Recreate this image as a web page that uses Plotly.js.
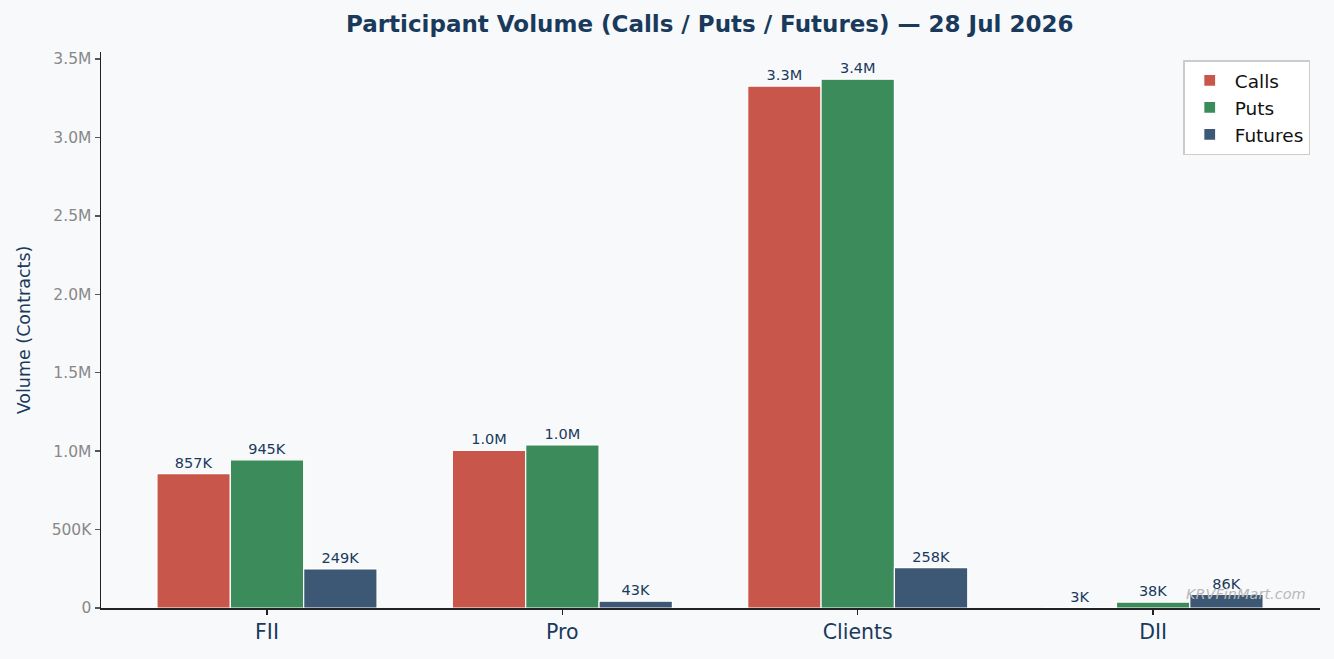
<!DOCTYPE html>
<html>
<head>
<meta charset="utf-8">
<script src="https://cdn.plot.ly/plotly-3.0.1.min.js"></script>
<style>
  html, body { margin: 0; padding: 0; background: #f8f9fb; }
  #chart { width: 1334px; height: 659px; }
</style>
</head>
<body>
<div id="chart"></div>
<script>
// participant categories and volumes (contracts)
const participants = ['FII', 'Pro', 'Clients', 'DII'];
const calls   = [857000, 1005000, 3328000, 3000];
const puts    = [945000, 1040000, 3372000, 38000];
const futures = [249000, 43000, 258000, 86000];

const yTickVals = [0, 500000, 1000000, 1500000, 2000000, 2500000, 3000000, 3500000];
const yTickText = ['0', '500K', '1.0M', '1.5M', '2.0M', '2.5M', '3.0M', '3.5M'];

function fmt(v) {
  if (v >= 1e6) return (v / 1e6).toFixed(1) + 'M';
  return Math.round(v / 1e3) + 'K';
}

function series(name, vals, color) {
  return {
    type: 'bar',
    name: name,
    x: participants,
    y: vals,
    text: vals.map(fmt),
    textposition: 'outside',
    cliponaxis: false,
    textfont: { family: 'DejaVu Sans', size: 14.5, color: '#1a3a5c' },
    marker: { color: color, line: { color: '#ffffff', width: 1.2 } },
    hoverinfo: 'x+y+name'
  };
}

const data = [
  series('Calls', calls, '#c8564b'),
  series('Puts', puts, '#3b8c5a'),
  series('Futures', futures, '#3d5874')
];

const layout = {
  width: 1334,
  height: 659,
  paper_bgcolor: '#f8f9fb',
  plot_bgcolor: '#f8f9fb',
  font: { family: 'DejaVu Sans', color: '#1a3a5c' },
  margin: { l: 101, r: 14, t: 52, b: 51 },
  title: {
    text: '<b>Participant Volume (Calls / Puts / Futures) — 28 Jul 2026</b>',
    font: { family: 'DejaVu Sans', size: 23, color: '#1a3a5c' },
    x: 0.532, xanchor: 'center', y: 0.963, yanchor: 'middle'
  },
  barmode: 'group',
  bargap: 0.255,
  bargroupgap: 0,
  showlegend: true,
  legend: {
    x: 0.992, xanchor: 'right', y: 0.985, yanchor: 'top',
    bgcolor: '#ffffff', bordercolor: '#cccccc', borderwidth: 1.5,
    font: { family: 'DejaVu Sans', size: 18.5, color: '#111111' },
    itemwidth: 40
  },
  xaxis: {
    range: [-0.562, 3.565],
    showgrid: false,
    showline: true, linecolor: '#222222', linewidth: 1.5,
    ticks: 'outside', ticklen: 5, tickwidth: 1.5, tickcolor: '#222222',
    tickfont: { family: 'DejaVu Sans', size: 20.5, color: '#1a3a5c' },
    zeroline: false
  },
  yaxis: {
    range: [0, 3545000],
    showgrid: false,
    showline: true, linecolor: '#222222', linewidth: 1.5,
    ticks: 'outside', ticklen: 5, tickwidth: 1.5, tickcolor: '#555555',
    tickvals: yTickVals, ticktext: yTickText,
    tickfont: { family: 'DejaVu Sans', size: 15.5, color: '#888888' },
    zeroline: false,
    title: {
      text: 'Volume (Contracts)',
      font: { family: 'DejaVu Sans', size: 17.5, color: '#1a3a5c' },
      standoff: 16
    }
  },
  annotations: [{
    text: '<i>KRVFinMart.com</i>',
    xref: 'paper', yref: 'paper',
    x: 0.99, y: 0.025, xanchor: 'right', yanchor: 'middle',
    showarrow: false,
    font: { family: 'DejaVu Sans', size: 14.5, color: '#b8b8b8' }
  }]
};

Plotly.newPlot('chart', data, layout, { displayModeBar: false, staticPlot: true });
</script>
</body>
</html>
